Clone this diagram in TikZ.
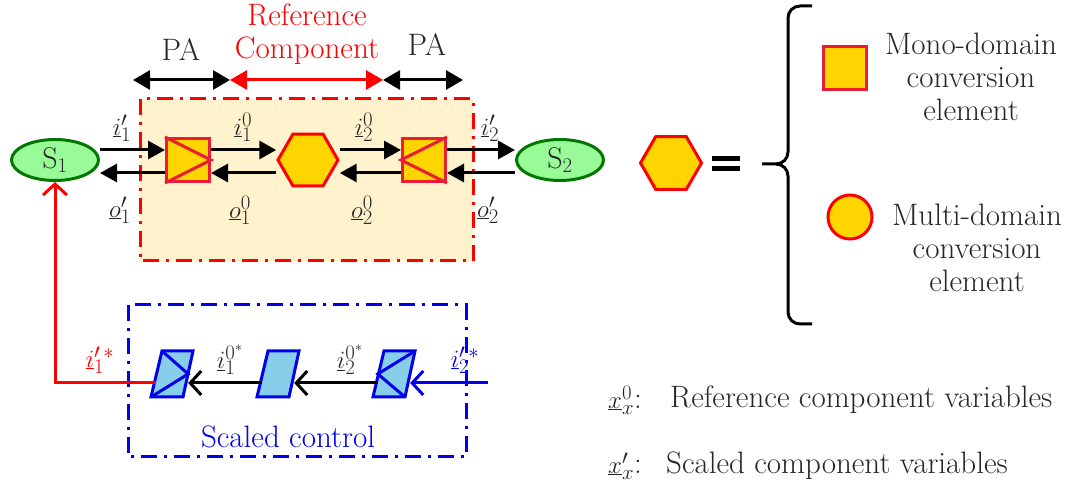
\documentclass[tikz,border=0pt]{standalone}
\usetikzlibrary{arrows.meta,shapes.geometric,calc}
\definecolor{gold}{RGB}{255,213,0}
\definecolor{sqred}{RGB}{236,28,52}
\definecolor{boxfill}{RGB}{255,242,204}
\definecolor{lgreen}{RGB}{152,251,152}
\definecolor{dgreen}{RGB}{0,120,0}
\definecolor{skyb}{RGB}{135,206,235}
\definecolor{pblue}{RGB}{0,0,235}
\definecolor{txt}{RGB}{38,38,38}
\tikzset{
  lab/.style={font=\fontsize{30}{34}\selectfont, text=txt, inner sep=0pt},
  big/.style={font=\fontsize{31}{33}\selectfont, text=txt, align=center, inner sep=0pt},
  src/.style={ellipse, draw=dgreen, fill=lgreen, line width=3pt, minimum width=87pt, minimum height=41pt, inner sep=0pt, font=\fontsize{30}{33}\selectfont, text=txt},
  mono/.style={rectangle, draw=sqred, fill=gold, line width=3pt, minimum size=43pt, inner sep=0pt},
  multi/.style={regular polygon, regular polygon sides=6, draw=red, fill=gold, line width=3pt, minimum size=60pt, inner sep=0pt},
  multic/.style={circle, draw=red, fill=gold, line width=3pt, minimum size=44pt, inner sep=0pt},
  parabox/.style={rectangle, minimum width=32pt, minimum height=46pt, inner sep=0pt},
  pline/.style={draw=pblue, line width=3pt, line join=miter},
  farr/.style={line width=3pt, draw=black, -{Triangle[length=17pt,width=18pt]}},
  darr/.style={line width=3pt, {Triangle[length=17pt,width=19pt]}-{Triangle[length=17pt,width=19pt]}},
  oarr/.style={line width=3pt, -{Straight Barb[length=11pt,width=24pt]}},
  dashdot/.style={line width=3pt, dash pattern=on 16pt off 7pt on 3pt off 7pt},
}
\newcommand\drawpara[1]{%
  \draw[pline, fill=skyb] ($(#1)+(-10,-23)$) -- ($(#1)+(21,-23)$) -- ($(#1)+(11,23)$) -- ($(#1)+(-21,23)$) -- cycle;}
\begin{document}
\begin{tikzpicture}[x=1pt,y=-1pt]
\useasboundingbox (0,0) rectangle (1072,486);

% reference component box
\draw[dashdot, draw=red, fill=boxfill] (140,99) rectangle (473,261);
% scaled control box
\draw[dashdot, draw=pblue] (128,305) rectangle (466,457);
\node[font=\fontsize{31}{33}\selectfont, text=pblue, inner sep=0pt] (sc) at (288,437) {Scaled control};

% sources
\node[src] (S1) at (55,160) {S$_1$};
\node[src] (S2) at (560,160) {S$_2$};

% conversion elements
\node[mono] (sq1) at (188,160) {};
\node[multi] (hex) at (308,160) {};
\node[mono] (sq2) at (424,160) {};
\draw[sqred, line width=3pt] (sq1.north west) -- (sq1.east) -- (sq1.south west);
\draw[sqred, line width=3pt] (sq2.north east) -- (sq2.west) -- (sq2.south east);

% flows
\draw[farr] ([yshift=10pt]S1.east) -- ([yshift=10pt]sq1.west);
\draw[farr] ([yshift=10pt]sq1.east) -- ([yshift=10pt]hex.west);
\draw[farr] ([yshift=10pt]hex.east) -- ([yshift=10pt]sq2.west);
\draw[farr] ([yshift=10pt]sq2.east) -- ([yshift=10pt]S2.west);
\draw[farr] ([yshift=-13pt]sq1.west) -- ([yshift=-13pt]S1.east);
\draw[farr] ([yshift=-13pt]hex.west) -- ([yshift=-13pt]sq1.east);
\draw[farr] ([yshift=-13pt]sq2.west) -- ([yshift=-13pt]hex.east);
\draw[farr] ([yshift=-13pt]S2.west) -- ([yshift=-13pt]sq2.east);

% flow labels
\node[lab] (li1) at (122,128) {$\underline{i}'_1$};
\node[lab] (li01) at (243,127) {$\underline{i}^0_1$};
\node[lab] (li02) at (364,127) {$\underline{i}^0_2$};
\node[lab] (li2) at (490,128) {$\underline{i}'_2$};
\node[lab] (lo1) at (120,210) {$\underline{o}'_1$};
\node[lab] (lo01) at (240,210) {$\underline{o}^0_1$};
\node[lab] (lo02) at (362,210) {$\underline{o}^0_2$};
\node[lab] (lo2) at (488,210) {$\underline{o}'_2$};

% PA / reference component arrows
\coordinate (a1) at (133,80);
\coordinate (a2) at (230,80);
\coordinate (a3) at (383,80);
\coordinate (a4) at (463,80);
\draw[darr] (a1) -- (a2);
\draw[darr, draw=red, fill=red] (a2) -- (a3);
\draw[darr] (a3) -- (a4);
\node[big] (pa1) at (181,50) {PA};
\node[big] (pa2) at (427,45) {PA};
\node[big, text=red] (rc) at (307,34) {Reference\\Component};

% scaled control
\node[parabox] (p1) at (172,374) {};
\node[parabox] (p2) at (278,374) {};
\node[parabox] (p3) at (394,374) {};
\drawpara{p1}
\drawpara{p2}
\drawpara{p3}
\draw[pline] ($(p1)+(-10,-23)$) -- (p1.east) -- ($(p1)+(-21,23)$);
\draw[pline] ($(p3)+(21,-23)$) -- (p3.west) -- ($(p3)+(11,23)$);
\draw[oarr] ([yshift=-9pt]p2.west) -- ([yshift=-9pt]p1.east);
\draw[oarr] ([yshift=-9pt]p3.west) -- ([yshift=-9pt]p2.east);
\coordinate (inb) at (488,383);
\draw[oarr, pblue] (inb) -- ([yshift=-9pt]p3.east);
\draw[oarr, red] ([yshift=-9pt]p1.west) -| (S1.south);

\node[lab] (ls1) at (230,360) {$\underline{i}^{0^*}_1$};
\node[lab] (ls2) at (350,360) {$\underline{i}^{0^*}_2$};
\node[lab, text=red] (lr) at (100,360) {$\underline{i}'^{\,*}_1$};
\node[lab, text=pblue] (lb) at (465,360) {$\underline{i}'^{\,*}_2$};

% legend
\node[multi, minimum size=61pt] (lhex) at (671,163) {};
\draw[line width=5pt] (712,159) -- (740,159);
\draw[line width=5pt] (712,169) -- (740,169);
\draw[line width=3pt, line join=round] (812,6) -- (800,6) to[out=180,in=90] (788,18) -- (788,152) to[out=-90,in=0] (776,164) -- (762,164);
\draw[line width=3pt, line join=round] (812,324) -- (800,324) to[out=180,in=-90] (788,312) -- (788,176) to[out=90,in=0] (776,164);
\node[mono] (lsq) at (845,68) {};
\node[big] (tmono) at (971,77) {Mono-domain\\conversion\\element};
\node[multic] (lcirc) at (850,217) {};
\node[big] (tmulti) at (977,248) {Multi-domain\\conversion\\element};

\node[big, anchor=east] (v0) at (642,400) {$\underline{x}^0_x$:};
\node[big, anchor=west] (t0) at (670,400) {Reference component variables};
\node[big, anchor=east] (v1) at (642,466) {$\underline{x}'_x$:};
\node[big, anchor=west] (t1) at (666,466) {Scaled component variables};
\end{tikzpicture}
\end{document}
